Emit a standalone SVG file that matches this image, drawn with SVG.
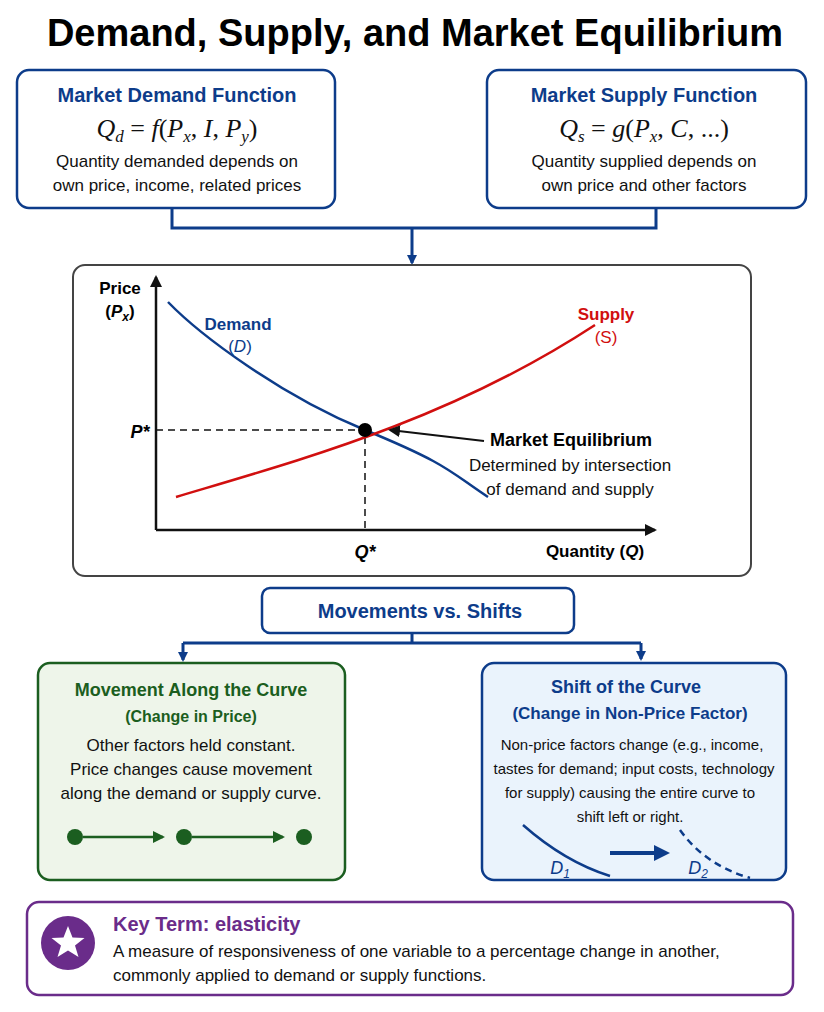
<svg xmlns="http://www.w3.org/2000/svg" width="824" height="1012" viewBox="0 0 824 1012">
<style>
text{font-family:"Liberation Sans",Arial,sans-serif;text-anchor:middle}
.h{font-weight:bold;font-size:20px;fill:#0d3c8a}
.b{font-size:17px;fill:#111}
.m{font-family:"Liberation Serif","Times New Roman",serif;font-style:italic;font-size:26px;fill:#111}
.box{fill:#fff;stroke:#0d3c8a;stroke-width:2.5}
.conn{fill:none;stroke:#0d3c8a;stroke-width:3}
</style>
<defs>
<marker id="ab" markerWidth="10" markerHeight="10" refX="8" refY="5" orient="auto" markerUnits="userSpaceOnUse"><path d="M0,0L10,5L0,10z" fill="#0d3c8a"/></marker>
<marker id="ak" markerWidth="12" markerHeight="12" refX="10" refY="6" orient="auto" markerUnits="userSpaceOnUse"><path d="M0,0L12,6L0,12z" fill="#111"/></marker>
<marker id="ag" markerWidth="12" markerHeight="12" refX="10" refY="6" orient="auto" markerUnits="userSpaceOnUse"><path d="M0,0L12,6L0,12z" fill="#1b5e20"/></marker>
<marker id="abl" markerWidth="16" markerHeight="16" refX="12" refY="8" orient="auto" markerUnits="userSpaceOnUse"><path d="M0,0L16,8L0,16z" fill="#0d3c8a"/></marker>
</defs>
<rect width="824" height="1012" fill="#fff"/>
<text x="415" y="46" style="font-weight:bold;font-size:38px;fill:#000">Demand, Supply, and Market Equilibrium</text>

<g id="connectors">
<path class="conn" d="M172,208V228H656V208"/>
<path class="conn" d="M412,228V263" marker-end="url(#ab)"/>
<path class="conn" d="M412,633V643M183,643H641M641,643V659" marker-end="url(#ab)"/>
<path class="conn" d="M183,643V660" marker-end="url(#ab)"/>
</g>

<g id="demand-function">
<rect class="box" x="17" y="70" width="318" height="138" rx="12"/>
<text class="h" x="177" y="102">Market Demand Function</text>
<text class="m" x="177" y="137">Q<tspan font-size="17" dy="5">d</tspan><tspan dy="-5" font-style="normal"> = </tspan>f<tspan font-style="normal">(</tspan>P<tspan font-size="17" dy="5">x</tspan><tspan dy="-5" font-style="normal">, </tspan>I<tspan font-style="normal">, </tspan>P<tspan font-size="17" dy="5">y</tspan><tspan dy="-5" font-style="normal">)</tspan></text>
<text class="b" x="177" y="167">Quantity demanded depends on</text>
<text class="b" x="177" y="191">own price, income, related prices</text>
</g>
<g id="supply-function">
<rect class="box" x="487" y="70" width="319" height="138" rx="12"/>
<text class="h" x="644" y="102">Market Supply Function</text>
<text class="m" x="644" y="137">Q<tspan font-size="17" dy="5">s</tspan><tspan dy="-5" font-style="normal"> = </tspan>g<tspan font-style="normal">(</tspan>P<tspan font-size="17" dy="5">x</tspan><tspan dy="-5" font-style="normal">, </tspan>C<tspan font-style="normal">, ...)</tspan></text>
<text class="b" x="644" y="167">Quantity supplied depends on</text>
<text class="b" x="644" y="191">own price and other factors</text>
</g>

<g id="chart">
<rect x="73" y="265" width="678" height="311" rx="12" fill="#fff" stroke="#444" stroke-width="2"/>
<path d="M156,530V277" stroke="#111" stroke-width="2.5" fill="none" marker-end="url(#ak)"/>
<path d="M156,530H655" stroke="#111" stroke-width="2.5" fill="none" marker-end="url(#ak)"/>
<path d="M156,430H365V530" stroke="#111" stroke-width="1.5" stroke-dasharray="7,5" fill="none"/>
<path d="M168,302C200,335 280,395 365,430S450,472 488,497" stroke="#0d3c8a" stroke-width="2.5" fill="none"/>
<path d="M176,497C300,460 450,420 595,325" stroke="#d10f0f" stroke-width="2.5" fill="none"/>
<circle cx="365" cy="430" r="7" fill="#000"/>
<path d="M484,441L390,430" stroke="#111" stroke-width="2" marker-end="url(#ak)"/>
<text x="120" y="294" style="font-weight:bold;font-size:17px">Price</text>
<text x="120" y="317" style="font-weight:bold;font-size:17px">(<tspan font-style="italic">P</tspan><tspan font-size="12" dy="4" font-style="italic">x</tspan><tspan dy="-4">)</tspan></text>
<text x="238" y="330" style="font-weight:bold;font-size:17px;fill:#0d3c8a">Demand</text>
<text x="240" y="352" style="font-size:17px;fill:#0d3c8a">(<tspan font-style="italic">D</tspan>)</text>
<text x="606" y="320" style="font-weight:bold;font-size:17px;fill:#d10f0f">Supply</text>
<text x="606" y="343" style="font-size:17px;fill:#d10f0f">(S)</text>
<text x="140" y="438" style="font-weight:bold;font-style:italic;font-size:18px">P*</text>
<text x="365" y="558" style="font-weight:bold;font-style:italic;font-size:18px">Q*</text>
<text x="595" y="557" style="font-weight:bold;font-size:17px">Quantity (<tspan font-style="italic">Q</tspan>)</text>
<text x="571" y="446" style="font-weight:bold;font-size:18px">Market Equilibrium</text>
<text class="b" x="570" y="471">Determined by intersection</text>
<text class="b" x="570" y="495">of demand and supply</text>
</g>

<g id="movements-vs-shifts">
<rect class="box" x="262" y="588" width="312" height="45" rx="8"/>
<text class="h" x="420" y="618">Movements vs. Shifts</text>
</g>

<g id="movement-along">
<rect x="38" y="663" width="307" height="217" rx="12" fill="#eef5ea" stroke="#1b5e20" stroke-width="2.5"/>
<text x="191" y="696" style="font-weight:bold;font-size:18px;fill:#1b5e20">Movement Along the Curve</text>
<text x="191" y="722" style="font-weight:bold;font-size:16px;fill:#1b5e20">(Change in Price)</text>
<text class="b" x="191" y="751">Other factors held constant.</text>
<text class="b" x="191" y="775">Price changes cause movement</text>
<text class="b" x="191" y="799">along the demand or supply curve.</text>
<circle cx="75" cy="837" r="8" fill="#1b5e20"/>
<circle cx="184" cy="837" r="8" fill="#1b5e20"/>
<circle cx="304" cy="837" r="8" fill="#1b5e20"/>
<path d="M192,837H283" stroke="#1b5e20" stroke-width="2.5" marker-end="url(#ag)"/>
<path d="M83,837H163" stroke="#1b5e20" stroke-width="2.5" marker-end="url(#ag)"/>
</g>

<g id="shift-curve">
<rect x="482" y="663" width="304" height="217" rx="12" fill="#eaf3fc" stroke="#0d3c8a" stroke-width="2.5"/>
<text x="626" y="693" style="font-weight:bold;font-size:18px;fill:#0d3c8a">Shift of the Curve</text>
<text x="630" y="719" style="font-weight:bold;font-size:17px;fill:#0d3c8a">(Change in Non-Price Factor)</text>
<text x="632" y="750" style="font-size:15px;fill:#111">Non-price factors change (e.g., income,</text>
<text x="634" y="774" style="font-size:15px;fill:#111">tastes for demand; input costs, technology</text>
<text x="630" y="798" style="font-size:15px;fill:#111">for supply) causing the entire curve to</text>
<text x="630" y="822" style="font-size:15px;fill:#111">shift left or right.</text>
<path d="M523,825Q565,862 610,876" stroke="#0d3c8a" stroke-width="2.5" fill="none"/>
<path d="M680,830Q705,865 750,878" stroke="#0d3c8a" stroke-width="2.5" stroke-dasharray="7,5" fill="none"/>
<path d="M610,853H666" stroke="#0d3c8a" stroke-width="4" marker-end="url(#abl)"/>
<text x="560" y="874" style="font-style:italic;font-size:18px;fill:#0d3c8a">D<tspan font-size="12" dy="4">1</tspan></text>
<text x="698" y="874" style="font-style:italic;font-size:18px;fill:#0d3c8a">D<tspan font-size="12" dy="4">2</tspan></text>
</g>

<g id="key-term">
<rect x="27" y="902" width="766" height="93" rx="12" fill="#fff" stroke="#6a2c8a" stroke-width="2.5"/>
<circle cx="68" cy="943" r="27" fill="#6a2c8a"/>
<polygon points="68,926 72.5,937.5 84.5,938 75,945.5 78.5,957 68,950.5 57.5,957 61,945.5 51.5,938 63.5,937.5" fill="#fff"/>
<text x="113" y="931" style="text-anchor:start;font-weight:bold;font-size:20px;fill:#6a2c8a">Key Term: elasticity</text>
<text x="113" y="957" style="text-anchor:start;font-size:17px;fill:#111">A measure of responsiveness of one variable to a percentage change in another,</text>
<text x="113" y="981" style="text-anchor:start;font-size:17px;fill:#111">commonly applied to demand or supply functions.</text>
</g>
</svg>
